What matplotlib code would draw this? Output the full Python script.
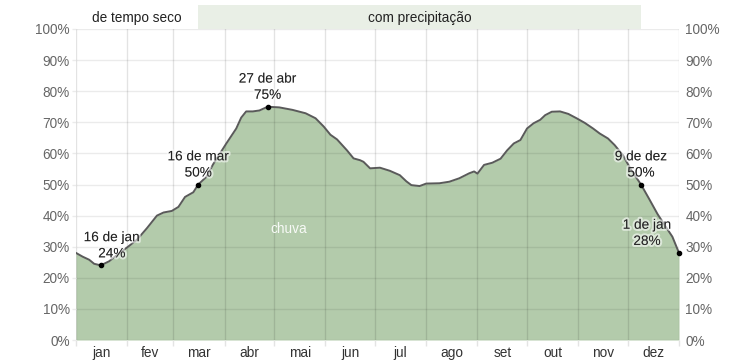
import matplotlib
matplotlib.use('Agg')
import matplotlib.pyplot as plt
import matplotlib.patheffects as pe
from matplotlib.patches import Rectangle
import numpy as np

plt.rcParams['font.family'] = ['Liberation Sans', 'DejaVu Sans']

# daily chance of a wet day (day of year, %)
days = [0, 4, 8, 11, 15, 20, 26, 32, 37, 43, 49, 53, 58, 62, 66, 71, 74, 79, 83, 91,
        97, 100, 103, 107, 111, 116, 123, 131, 139, 145, 150, 154, 158, 164, 168, 172,
        174, 178, 184, 190, 196, 200, 203, 208, 212, 220, 226, 232, 238, 241, 243, 247,
        252, 257, 261, 265, 269, 273, 277, 281, 284, 288, 293, 298, 303, 308, 313, 317,
        322, 326, 331, 336, 342, 347, 352, 357, 361, 365]
rain_pct = [28, 26.8, 25.8, 24.5, 24, 25.3, 27.8, 30.2, 32.3, 36, 40, 41, 41.5, 42.8,
            46, 47.5, 50, 52.5, 56.5, 63.2, 68, 71.5, 73.5, 73.5, 73.8, 75, 74.8, 74,
            72.9, 71.3, 68.6, 66, 64.5, 61, 58.4, 57.8, 57.3, 55.2, 55.4, 54.4, 53, 51,
            49.8, 49.5, 50.3, 50.4, 50.9, 52, 53.6, 54.2, 53.5, 56.3, 57, 58.3, 61, 63.2,
            64.3, 68, 69.7, 70.8, 72.3, 73.4, 73.5, 72.7, 71.3, 69.8, 68, 66.4, 64.8,
            62.7, 59.5, 54.7, 50, 45.3, 40.5, 36.4, 33.2, 28]

# highlighted points
mark_days = [15, 74, 116, 342, 365]
mark_pct = [24, 50, 75, 50, 28]
mark_labels = ['16 de jan\n24%', '16 de mar\n50%', '27 de abr\n75%', '9 de dez\n50%', '1 de jan\n28%']
mark_dx = [11, 0, 0, 0, -32]

month_names = ['jan', 'fev', 'mar', 'abr', 'mai', 'jun', 'jul', 'ago', 'set', 'out', 'nov', 'dez']
month_edges = [0, 31, 59, 90, 120, 151, 181, 212, 243, 273, 304, 334, 365]

# seasons (start day, end day, label)
season_start = [0, 74, 342]
season_end = [74, 342, 365]
season_label = ['de tempo seco', 'com precipitação', '']
season_wet = [False, True, False]

fig = plt.figure(figsize=(7.53, 3.62), dpi=100)
ax = fig.add_axes([76 / 753, 22 / 362, 603 / 753, 311 / 362])
ax.set_xlim(0, 365)
ax.set_ylim(0, 100)
for s in ax.spines.values():
    s.set_visible(False)

ax.fill_between(days, 0, rain_pct, color='#b3cbab', lw=0, zorder=1)
ax.plot(days, rain_pct, color='#5a5a5a', lw=1.4, zorder=3)

# grid on top of the fill
ax.set_axisbelow(False)
ax.set_yticks(np.arange(0, 101, 10))
ax.set_yticklabels([f'{v}%' for v in range(0, 101, 10)])
ax.set_xticks(month_edges)
ax.set_xticklabels([])
ax.set_xticks([(a + b) / 2 for a, b in zip(month_edges[:-1], month_edges[1:])], minor=True)
ax.set_xticklabels(month_names, minor=True)
ax.grid(True, axis='y', which='major', color='black', alpha=0.08, lw=1.0)
ax.grid(True, axis='x', which='major', color='black', alpha=0.11, lw=1.0)
ax.tick_params(axis='x', which='major', length=4, color='#e4e4e4', width=1.0)
ax.tick_params(axis='x', which='minor', length=0, pad=4, labelsize=9.8, labelcolor='#333333')
ax.tick_params(axis='y', which='major', length=3, color='#ebebeb', width=1.0, pad=1.5,
               labelsize=9.8, labelcolor='#666666', labelright=True, right=False)

# header band with seasons
for s0, s1, lab, wet in zip(season_start, season_end, season_label, season_wet):
    if wet:
        ax.add_patch(Rectangle((s0, 100), s1 - s0, 7.7, facecolor='#e9efe6', edgecolor='none',
                               clip_on=False, zorder=0))
    if lab:
        ax.text((s0 + s1) / 2, 103.6, lab, ha='center', va='center', fontsize=9.8,
                color='#222222', clip_on=False)

halo = [pe.withStroke(linewidth=3, foreground=(1, 1, 1, 0.55))]
ax.plot(mark_days, mark_pct, 'o', color='black', ms=3, zorder=5, clip_on=False)
for d, v, t, dx in zip(mark_days, mark_pct, mark_labels, mark_dx):
    ax.annotate(t, xy=(d, v), xytext=(dx, 5), textcoords='offset pixels', ha='center',
                va='bottom', fontsize=9.8, color='#222222', linespacing=1.2,
                path_effects=halo, zorder=6)

ax.text(129, 35.7, 'chuva', ha='center', va='center', fontsize=9.8, color='white', alpha=0.9)

fig.savefig('out.png', dpi=100)
